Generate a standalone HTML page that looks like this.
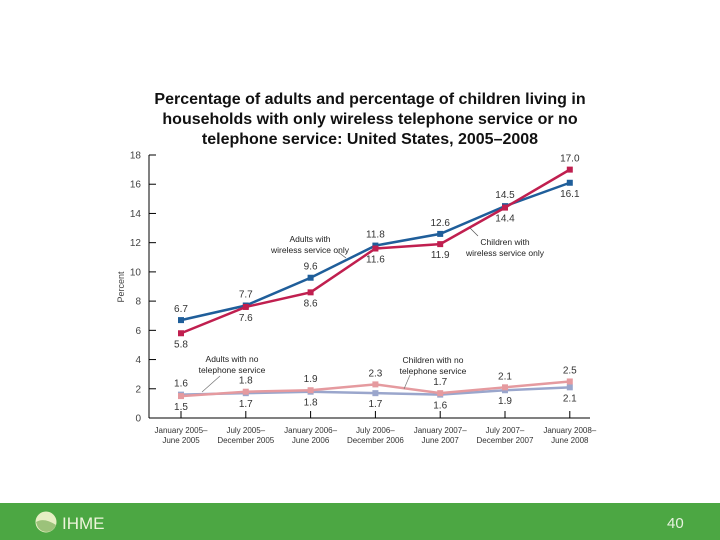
<!DOCTYPE html>
<html><head><meta charset="utf-8"><style>
html,body{margin:0;padding:0;background:#fff;}
body{width:720px;height:540px;position:relative;overflow:hidden;font-family:"Liberation Sans",Arial,sans-serif;}
#footer{position:absolute;left:0;top:503px;width:720px;height:37px;background:#4ca743;}
#title{position:absolute;left:120px;top:90px;width:500px;text-align:center;font-weight:bold;font-size:16px;line-height:20px;color:#111;}
</style></head><body>
<div id="title">Percentage of adults and percentage of children living in<br>households with only wireless telephone service or no<br>telephone service: United States, 2005–2008</div>
<svg id="chart" width="720" height="540" style="position:absolute;left:0;top:0" xmlns="http://www.w3.org/2000/svg"></svg>
<div id="footer">
 <svg width="200" height="37" style="position:absolute;left:0;top:0">
  <circle cx="46" cy="19" r="10" fill="#e7efc4" stroke="#e7efc4"/>
  <path d="M36 19 Q44 14 56 22 A10 10 0 0 1 37 22 Z" fill="#9cc27a"/>
  <text x="62" y="26" font-size="17" fill="#eef5dc" font-family="Liberation Sans, sans-serif">IHME</text>
 </svg>
 <div style="position:absolute;left:667px;top:12px;font-size:15px;color:#e8f3e0;">40</div>
</div>
<script>
const categories=[["January 2005–","June 2005"],["July 2005–","December 2005"],["January 2006–","June 2006"],["July 2006–","December 2006"],["January 2007–","June 2007"],["July 2007–","December 2007"],["January 2008–","June 2008"]];
const adultsWireless=[6.7,7.7,9.6,11.8,12.6,14.5,16.1];
const childrenWireless=[5.8,7.6,8.6,11.6,11.9,14.4,17.0];
const adultsNoPhone=[1.6,1.7,1.8,1.7,1.6,1.9,2.1];
const childrenNoPhone=[1.5,1.8,1.9,2.3,1.7,2.1,2.5];
const yTicks=[0,2,4,6,8,10,12,14,16,18];

const svg=document.getElementById('chart');
const NS='http://www.w3.org/2000/svg';
const x0=181,dx=64.8,yBase=418,yTop=155,yMax=18;
function xs(i){return x0+i*dx;}
function ys(v){return yBase-(v/yMax)*(yBase-yTop);}
function mk(tag,attrs,parent){const e=document.createElementNS(NS,tag);for(const k in attrs)e.setAttribute(k,attrs[k]);(parent||svg).appendChild(e);return e;}
function txt(x,y,s,size,anchor,fill,name){const t=mk('text',{x:x,y:y,'font-size':size,'text-anchor':anchor||'middle',fill:fill||'#222','font-family':'Liberation Sans, sans-serif'});t.textContent=s;return t;}

const ax=mk('line',{x1:149,y1:yTop,x2:149,y2:yBase,stroke:'#000','stroke-width':1});


const xa=mk('line',{x1:149,y1:yBase,x2:590,y2:yBase,stroke:'#000','stroke-width':1});


yTicks.forEach(v=>{
  const t=mk('line',{x1:149,y1:ys(v),x2:156,y2:ys(v),stroke:'#000'});
  
  
  txt(141,ys(v)+3.5,String(v),10,'end','#444','y-tick-label');
});
const yt=txt(0,0,'Percent',9,'middle','#444','y-axis-title');
yt.setAttribute('transform','translate(124,287) rotate(-90)');
categories.forEach((c,i)=>{
  const t=mk('line',{x1:xs(i),y1:yBase,x2:xs(i),y2:yBase-7,stroke:'#000'});
  
  
  txt(xs(i),433,c[0],8,'middle','#333','x-tick-label');
  txt(xs(i),443,c[1],8,'middle','#333','x-tick-label');
});

function series(vals,color,w,name,labelOff){
  const p=mk('polyline',{points:vals.map((v,i)=>xs(i)+','+ys(v)).join(' '),fill:'none',stroke:color,'stroke-width':w});
  
  
  vals.forEach((v,i)=>{
    const r=mk('rect',{x:xs(i)-3,y:ys(v)-3,width:6,height:6,fill:color});
    
    
    txt(xs(i),ys(v)+labelOff[i],v.toFixed(1),10,'middle','#333',name+'-value-label');
  });
}
series(adultsNoPhone,'#9aa6cc',2.5,'adults-no-phone',[-8,14,14,14,14,14,14]);
series(childrenNoPhone,'#e59a9f',2.5,'children-no-phone',[14,-8,-8,-8,-8,-8,-8]);
series(adultsWireless,'#1f5e9a',2.5,'adults-wireless',[-8,-8,-8,-8,-8,-8,14]);
series(childrenWireless,'#c01f4f',2.5,'children-wireless',[14,14,14,14,14,14,-8]);

function note(x,y,lines,name){lines.forEach((l,k)=>txt(x,y+k*11,l,8.5,'middle','#222',name));}
note(310,242,['Adults with','wireless service only'],'adults-wireless-annotation');
mk('line',{x1:338,y1:252,x2:346,y2:258,stroke:'#555','stroke-width':0.7});
note(505,245,['Children with','wireless service only'],'children-wireless-annotation');
mk('line',{x1:478,y1:236,x2:470,y2:228,stroke:'#555','stroke-width':0.7});
note(232,362,['Adults with no','telephone service'],'adults-no-phone-annotation');
mk('line',{x1:220,y1:376,x2:202,y2:392,stroke:'#777','stroke-width':0.7});
note(433,363,['Children with no','telephone service'],'children-no-phone-annotation');
mk('line',{x1:410,y1:375,x2:404,y2:389,stroke:'#777','stroke-width':0.7});
</script>
</body></html>
